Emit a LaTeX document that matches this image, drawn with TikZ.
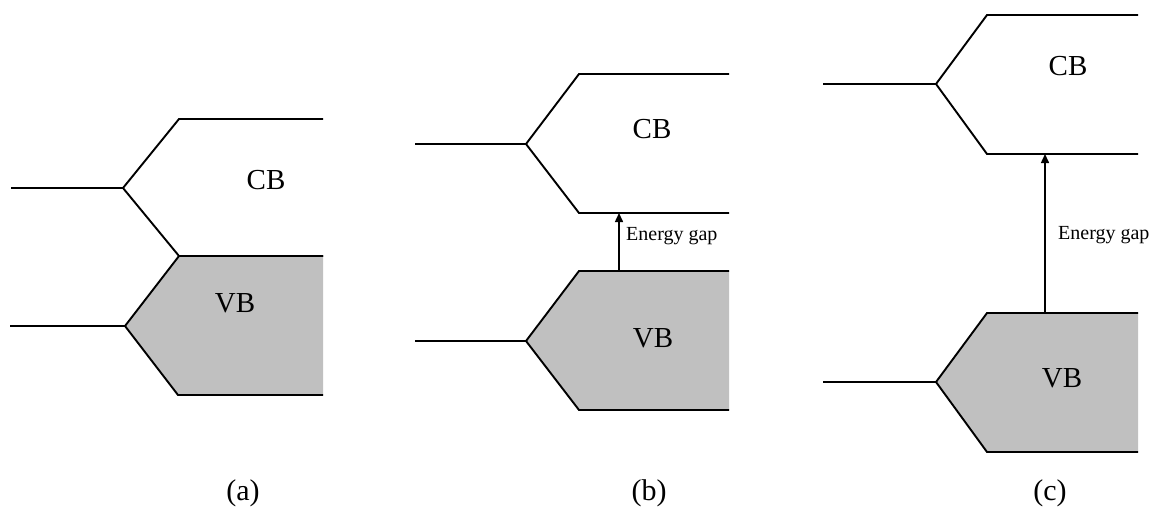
\documentclass[tikz,border=0pt]{standalone}
\usepackage{fontspec}
\setmainfont{Liberation Serif}
\usetikzlibrary{arrows.meta}
\definecolor{vbgray}{RGB}{192,192,192}
\begin{document}
\begin{tikzpicture}[x=1pt,y=-1pt,
  band/.style={line width=1.9pt, line join=miter},
  bandlabel/.style={font=\fontsize{29}{29}\selectfont, inner sep=0pt, anchor=base},
  gaplabel/.style={font=\fontsize{20}{20}\selectfont, inner sep=0pt, anchor=base west},
  caplabel/.style={font=\fontsize{30}{30}\selectfont, inner sep=0pt, anchor=base},
  gaparrow/.style={line width=1.5pt, -{Triangle[length=9pt,width=8pt]}}]
\useasboundingbox (0,0) rectangle (1155,508);

% ---------- (a): bands touching ----------
\coordinate (a-l1) at (11,188);   \coordinate (a-v1) at (123,188);
\coordinate (a-ct) at (179,119);  \coordinate (a-cte) at (323,119);
\coordinate (a-cb) at (179,256);  \coordinate (a-cbe) at (323,256);
\coordinate (a-l2) at (10,326);   \coordinate (a-v2) at (125,326);
\coordinate (a-vt) at (179,256);  \coordinate (a-vte) at (323,256);
\coordinate (a-vb) at (178,395);  \coordinate (a-vbe) at (323,395);
\fill[vbgray] (a-vt) -- (a-vte) -- (a-vbe) -- (a-vb) -- (a-v2) -- cycle;
\draw[band] (a-l1) -- (a-v1) -- (a-ct) -- (a-cte);
\draw[band] (a-v1) -- (a-cb) -- (a-cbe);
\draw[band] (a-l2) -- (a-v2);
\draw[band] (a-vte) -- (a-vt) -- (a-v2) -- (a-vb) -- (a-vbe);
\node[bandlabel] (a-CB) at (266,189) {CB};
\node[bandlabel] (a-VB) at (235,312) {VB};
\node[caplabel] (a-cap) at (243,500) {(a)};

% ---------- (b): small gap ----------
\coordinate (b-l1) at (415,144);  \coordinate (b-v1) at (526,144);
\coordinate (b-ct) at (579,74);   \coordinate (b-cte) at (729,74);
\coordinate (b-cb) at (579,213);  \coordinate (b-cbe) at (729,213);
\coordinate (b-l2) at (415,341);  \coordinate (b-v2) at (526,341);
\coordinate (b-vt) at (579,271);  \coordinate (b-vte) at (729,271);
\coordinate (b-vb) at (579,410);  \coordinate (b-vbe) at (729,410);
\coordinate (b-gt) at (619,213);  \coordinate (b-gb) at (619,271);
\fill[vbgray] (b-vt) -- (b-vte) -- (b-vbe) -- (b-vb) -- (b-v2) -- cycle;
\draw[band] (b-l1) -- (b-v1) -- (b-ct) -- (b-cte);
\draw[band] (b-v1) -- (b-cb) -- (b-cbe);
\draw[band] (b-l2) -- (b-v2);
\draw[band] (b-vte) -- (b-vt) -- (b-v2) -- (b-vb) -- (b-vbe);
\draw[gaparrow] (b-gb) -- (b-gt);
\node[gaplabel] (b-gap) at (626,240) {Energy gap};
\node[bandlabel] (b-CB) at (652,138) {CB};
\node[bandlabel] (b-VB) at (653,347) {VB};
\node[caplabel] (b-cap) at (649,500) {(b)};

% ---------- (c): large gap ----------
\coordinate (c-l1) at (823,84);   \coordinate (c-v1) at (936,84);
\coordinate (c-ct) at (987,15);   \coordinate (c-cte) at (1138,15);
\coordinate (c-cb) at (987,154);  \coordinate (c-cbe) at (1138,154);
\coordinate (c-l2) at (823,382);  \coordinate (c-v2) at (936,382);
\coordinate (c-vt) at (987,313);  \coordinate (c-vte) at (1138,313);
\coordinate (c-vb) at (987,452);  \coordinate (c-vbe) at (1138,452);
\coordinate (c-gt) at (1045,154); \coordinate (c-gb) at (1045,313);
\fill[vbgray] (c-vt) -- (c-vte) -- (c-vbe) -- (c-vb) -- (c-v2) -- cycle;
\draw[band] (c-l1) -- (c-v1) -- (c-ct) -- (c-cte);
\draw[band] (c-v1) -- (c-cb) -- (c-cbe);
\draw[band] (c-l2) -- (c-v2);
\draw[band] (c-vte) -- (c-vt) -- (c-v2) -- (c-vb) -- (c-vbe);
\draw[gaparrow] (c-gb) -- (c-gt);
\node[gaplabel] (c-gap) at (1058,239) {Energy gap};
\node[bandlabel] (c-CB) at (1068,76) {CB};
\node[bandlabel] (c-VB) at (1062,387) {VB};
\node[caplabel] (c-cap) at (1050,500) {(c)};
\end{tikzpicture}
\end{document}
